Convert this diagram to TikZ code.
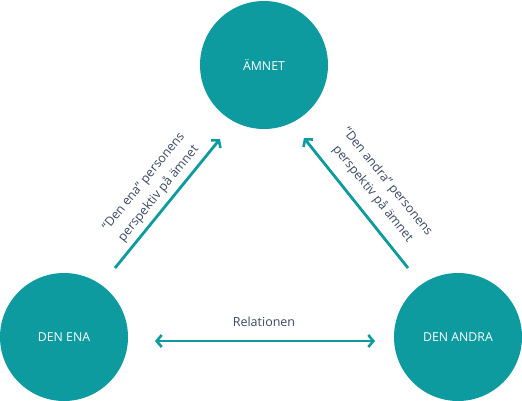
\documentclass[tikz,border=0pt]{standalone}
\usepackage{fontspec}
\setmainfont{Open Sans}
\usetikzlibrary{arrows.meta}
\definecolor{teal1}{HTML}{0E9BA0}
\definecolor{labelc}{HTML}{3B4A62}
\tikzset{
  bub/.style={circle, fill=teal1, minimum size=128pt, inner sep=0pt, text=white, font=\fontsize{12.3}{14}\selectfont},
  conn/.style={draw=teal1, line width=2.8pt, -{Straight Barb[length=5pt, width=12pt, line width=2.6pt]}},
  lab/.style={text=labelc, font=\fontsize{12.5}{15}\selectfont, align=center, inner sep=0pt}
}
\begin{document}
\begin{tikzpicture}[x=1pt,y=-1pt]
\useasboundingbox (0,0) rectangle (522,400);
\node[bub] (amnet) at (264,65) {ÄMNET};
\node[bub] (ena) at (64,337) {DEN ENA};
\node[bub] (andra) at (458,337) {DEN ANDRA};
\coordinate (a1) at (115,268);
\coordinate (a2) at (220,139);
\coordinate (b1) at (408,268);
\coordinate (b2) at (304,138);
\coordinate (c1) at (155,341);
\coordinate (c2) at (375,341);
\draw[conn] (a1) -- (a2);
\draw[conn] (b1) -- (b2);
\draw[conn, {Straight Barb[length=5pt, width=12pt, line width=2.6pt]}-{Straight Barb[length=5pt, width=12pt, line width=2.6pt]}] (c1) -- (c2);
\node[lab] (rel) at (264,322) {Relationen};
\node[lab, rotate=51] (laba) at (151.5,188) {“Den ena” personens\\[4pt]perspektiv på ämnet};
\node[lab, rotate=-51] (labb) at (380,188) {“Den andra” personens\\[4pt]perspektiv på ämnet};
\end{tikzpicture}
\end{document}
